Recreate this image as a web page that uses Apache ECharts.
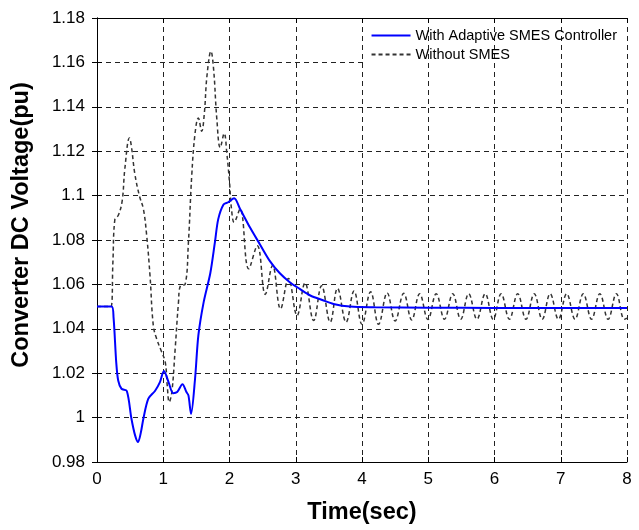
<!DOCTYPE html>
<html>
<head>
<meta charset="utf-8">
<script src="https://cdn.jsdelivr.net/npm/echarts@6/dist/echarts.min.js"></script>
<style>
html,body{margin:0;padding:0;background:#fff;}
#chart{width:639px;height:530px;}
</style>
</head>
<body>
<div id="chart"></div>
<script>
// Time (s) and voltage (pu) samples
var smesTime = [0, 0.22, 0.25, 0.29, 0.32, 0.37, 0.45, 0.52, 0.575, 0.62, 0.66, 0.70, 0.775, 0.875, 0.95, 1.01, 1.08, 1.15, 1.21, 1.29, 1.35, 1.38, 1.42, 1.48, 1.53, 1.61, 1.71, 1.78, 1.83, 1.91, 1.98, 2.07, 2.16, 2.31, 2.46, 2.61, 2.76, 2.91, 3.06, 3.22, 3.40, 3.57, 3.82, 4.2, 5, 6, 7, 8];
var smesVolt = [1.05, 1.05, 1.045, 1.025, 1.0167, 1.013, 1.012, 0.9995, 0.992, 0.989, 0.993, 0.9995, 1.0085, 1.012, 1.016, 1.021, 1.016, 1.011, 1.0115, 1.015, 1.0115, 1.010, 1.0017, 1.0175, 1.037, 1.052, 1.065, 1.079, 1.0894, 1.096, 1.097, 1.0988, 1.094, 1.0856, 1.078, 1.0705, 1.065, 1.061, 1.058, 1.055, 1.053, 1.0512, 1.0500, 1.0497, 1.0495, 1.0494, 1.0494, 1.0494];

var noSmesTime = [0, 0.21, 0.24, 0.27, 0.32, 0.38, 0.42, 0.49, 0.52, 0.57, 0.64, 0.70, 0.75, 0.80, 0.85, 0.90, 0.97, 1.03, 1.06, 1.09, 1.13, 1.18, 1.23, 1.26, 1.33, 1.38, 1.43, 1.48, 1.53, 1.58, 1.62, 1.66, 1.72, 1.76, 1.81, 1.86, 1.92, 1.96, 2.00, 2.03, 2.07, 2.16, 2.29, 2.42, 2.54, 2.65, 2.77, 2.89, 3.02, 3.14, 3.27, 3.39, 3.52, 3.63, 3.76, 3.88, 4.00, 4.13, 4.25, 4.38, 4.50, 4.63, 4.75, 4.87, 4.995, 5.12, 5.245, 5.37, 5.49, 5.61, 5.735, 5.86, 5.98, 6.10, 6.225, 6.35, 6.475, 6.60, 6.72, 6.84, 6.965, 7.09, 7.215, 7.34, 7.465, 7.59, 7.715, 7.84, 7.96, 8.0];
var noSmesVolt = [1.05, 1.05, 1.07, 1.0894, 1.091, 1.0976, 1.112, 1.126, 1.122, 1.110, 1.0999, 1.094, 1.082, 1.064, 1.0414, 1.0355, 1.030, 1.025, 1.0145, 1.007, 1.0115, 1.031, 1.052, 1.0594, 1.060, 1.079, 1.109, 1.128, 1.135, 1.129, 1.137, 1.154, 1.165, 1.157, 1.134, 1.1216, 1.128, 1.119, 1.106, 1.094, 1.088, 1.094, 1.067, 1.0774, 1.0555, 1.0685, 1.049, 1.0627, 1.046, 1.0606, 1.0437, 1.0594, 1.043, 1.0582, 1.043, 1.057, 1.042, 1.0567, 1.042, 1.0562, 1.0435, 1.0560, 1.0440, 1.0558, 1.0442, 1.0558, 1.0443, 1.0558, 1.0443, 1.0558, 1.0443, 1.0558, 1.0443, 1.0558, 1.0443, 1.0558, 1.0443, 1.0558, 1.0443, 1.0558, 1.0443, 1.0558, 1.0443, 1.0558, 1.0443, 1.0558, 1.0443, 1.0558, 1.0443, 1.0448];

var seriesNames = ['With Adaptive SMES Controller', 'Without SMES'];
var xTicks = {min: 0, max: 8, step: 1};
var yTicks = {min: 0.98, max: 1.18, step: 0.02};

function pairs(t, v) { return t.map(function (x, i) { return [x, v[i]]; }); }
function fmtY(v) { return String(parseFloat(v.toFixed(2))); }

var FONT = 'Liberation Sans, Arial, Helvetica, sans-serif';
var gridDash = {type: [5, 4], color: '#222', width: 1};

var chart = echarts.init(document.getElementById('chart'), null, {renderer: 'canvas'});
chart.setOption({
  animation: false,
  backgroundColor: '#fff',
  grid: {left: 97, right: 12, top: 18, bottom: 66, containLabel: false},
  graphic: [{
    type: 'rect', z: 2, silent: true,
    shape: {x: 364, y: 19, width: 262, height: 49},
    style: {fill: '#fff'}
  }],
  legend: {
    orient: 'vertical', right: 13, top: 19, z: 8,
    itemWidth: 39, itemHeight: 14, itemGap: 4,
    backgroundColor: 'transparent', padding: [9, 9, 5, 10],
    itemStyle: {opacity: 0},
    textStyle: {fontFamily: FONT, fontSize: 14.5, color: '#000'},
    data: seriesNames
  },
  xAxis: [{
    type: 'value', min: xTicks.min, max: xTicks.max, interval: xTicks.step, z: 3,
    name: 'Time(sec)', nameLocation: 'middle', nameGap: 39,
    nameTextStyle: {fontFamily: FONT, fontSize: 23.5, fontWeight: 'bold', color: '#000'},
    axisLine: {lineStyle: {color: '#000', width: 1}},
    axisTick: {inside: true, length: 5, lineStyle: {color: '#000'}},
    axisLabel: {fontFamily: FONT, fontSize: 17, color: '#000', margin: 9},
    splitLine: {show: true, lineStyle: gridDash}
  }, {
    type: 'value', position: 'top', min: xTicks.min, max: xTicks.max, interval: xTicks.step, z: 3,
    axisLine: {show: true, lineStyle: {color: '#000', width: 1}},
    axisTick: {inside: true, length: 5, lineStyle: {color: '#000'}},
    axisLabel: {show: false}, splitLine: {show: false}
  }],
  yAxis: [{
    type: 'value', min: yTicks.min, max: yTicks.max, interval: yTicks.step, z: 1,
    name: 'Converter DC Voltage(pu)', nameLocation: 'middle', nameGap: 63,
    nameTextStyle: {fontFamily: FONT, fontSize: 23.5, fontWeight: 'bold', color: '#000', padding: [0, 0, 0, 30]},
    axisLine: {show: true, lineStyle: {color: '#000', width: 1}},
    axisTick: {show: true, inside: true, length: 5, lineStyle: {color: '#000'}},
    axisLabel: {fontFamily: FONT, fontSize: 17, color: '#000', margin: 12, formatter: fmtY},
    splitLine: {show: true, lineStyle: gridDash}
  }, {
    type: 'value', position: 'right', min: yTicks.min, max: yTicks.max, interval: yTicks.step, z: 3,
    axisLine: {show: true, lineStyle: {color: '#000', width: 1}},
    axisTick: {show: true, inside: true, length: 5, lineStyle: {color: '#000'}},
    axisLabel: {show: false}, splitLine: {show: false}
  }],
  series: [{
    name: seriesNames[0], type: 'line', data: pairs(smesTime, smesVolt),
    xAxisIndex: 0, yAxisIndex: 0, z: 6,
    showSymbol: false, symbol: 'none', smooth: 0.3,
    lineStyle: {color: '#0000ff', width: 2}, itemStyle: {color: '#0000ff'}
  }, {
    name: seriesNames[1], type: 'line', data: pairs(noSmesTime, noSmesVolt),
    xAxisIndex: 0, yAxisIndex: 0, z: 5,
    showSymbol: false, symbol: 'none', smooth: 0.4,
    lineStyle: {color: '#333', width: 1.5, type: [4, 3]}, itemStyle: {color: '#333'}
  }]
});
</script>
</body>
</html>
